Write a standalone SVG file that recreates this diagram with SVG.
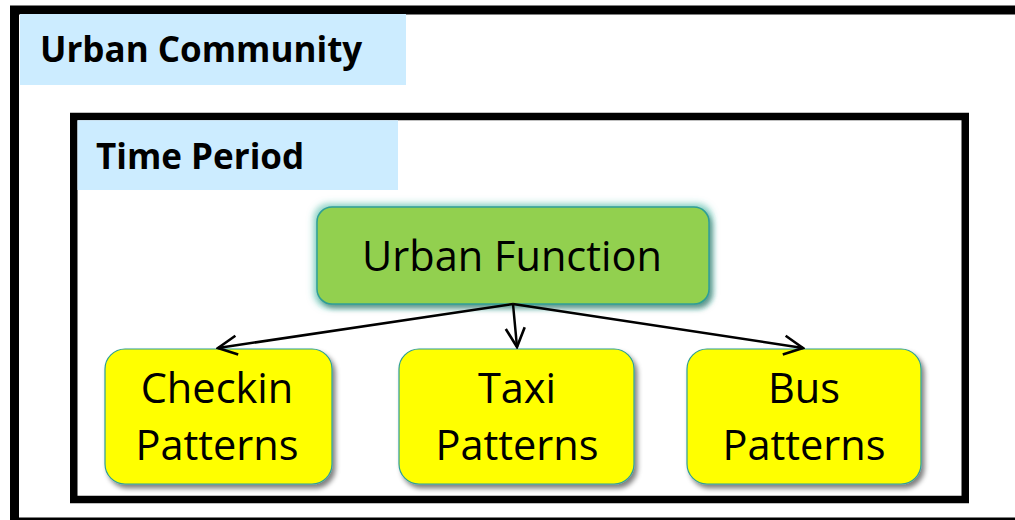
<svg xmlns="http://www.w3.org/2000/svg" width="1015" height="520" viewBox="0 0 1015 520">
  <style>
    .frame { fill: none; stroke: #000; }
    .tag { fill: #CCECFF; }
    .tagtext { font-family: "Open Sans", "Liberation Sans", sans-serif; font-weight: bold; fill: #000; }
    .label { font-family: "Open Sans", "Liberation Sans", sans-serif; font-size: 41.5px; fill: #000; text-anchor: middle; }
    .pattern { fill: #FFFF00; stroke: #2E9E96; stroke-width: 1.2; }
    .func { fill: #92D050; stroke: #2E9E96; stroke-width: 1.5; }
    .edge { fill: none; stroke: #000; stroke-width: 2.5; marker-end: url(#open); }
  </style>
  <defs>
    <marker id="open" viewBox="0 0 22 22" refX="20" refY="11" markerWidth="22" markerHeight="22" markerUnits="userSpaceOnUse" orient="auto">
      <path d="M1,1.5 L20,11 L1,20.5" fill="none" stroke="#000" stroke-width="2.6"/>
    </marker>
    <filter id="shadow" x="-10%" y="-20%" width="125%" height="145%">
      <feGaussianBlur in="SourceAlpha" stdDeviation="2.5"/>
      <feOffset dx="3" dy="4" result="b"/>
      <feFlood flood-color="#000" flood-opacity="0.5"/>
      <feComposite in2="b" operator="in" result="s"/>
      <feMerge><feMergeNode in="s"/><feMergeNode in="SourceGraphic"/></feMerge>
    </filter>
    <filter id="glow" x="-10%" y="-25%" width="125%" height="160%">
      <feMorphology in="SourceAlpha" operator="dilate" radius="3" result="d"/>
      <feGaussianBlur in="d" stdDeviation="3" result="g"/>
      <feFlood flood-color="#3DB39E" flood-opacity="0.55"/>
      <feComposite in2="g" operator="in" result="glowc"/>
      <feGaussianBlur in="SourceAlpha" stdDeviation="2.5"/>
      <feOffset dx="3" dy="4" result="b"/>
      <feFlood flood-color="#000" flood-opacity="0.45"/>
      <feComposite in2="b" operator="in" result="s"/>
      <feMerge><feMergeNode in="glowc"/><feMergeNode in="s"/><feMergeNode in="SourceGraphic"/></feMerge>
    </filter>
  </defs>

  <rect width="1015" height="520" fill="#fff"/>

  <!-- outer container -->
  <g id="urban-community">
    <rect class="frame" x="14.5" y="10" width="1010" height="512" stroke-width="9"/>
    <rect class="tag" x="20" y="14" width="386" height="71"/>
    <text class="tagtext" x="40" y="62" font-size="35">Urban Community</text>
  </g>

  <!-- inner container -->
  <g id="time-period">
    <rect class="frame" x="73.75" y="116.5" width="891.5" height="383" stroke-width="7.5"/>
    <rect class="tag" x="77.5" y="120.3" width="320.5" height="69.7"/>
    <text class="tagtext" x="96" y="169" font-size="35">Time Period</text>
  </g>

  <g id="urban-function">
    <rect class="func" x="317" y="207" width="392" height="97" rx="15" filter="url(#glow)"/>
    <text class="label" x="512" y="271">Urban Function</text>
  </g>

  <g id="checkin-patterns">
    <rect class="pattern" x="105" y="349" width="227" height="135" rx="20" filter="url(#shadow)"/>
    <text class="label" x="217" y="403">Checkin</text>
    <text class="label" x="217" y="460">Patterns</text>
  </g>

  <g id="taxi-patterns">
    <rect class="pattern" x="399" y="349" width="235" height="135" rx="20" filter="url(#shadow)"/>
    <text class="label" x="517" y="403">Taxi</text>
    <text class="label" x="517" y="460">Patterns</text>
  </g>

  <g id="bus-patterns">
    <rect class="pattern" x="687" y="349" width="234" height="135" rx="20" filter="url(#shadow)"/>
    <text class="label" x="804" y="403">Bus</text>
    <text class="label" x="804" y="460">Patterns</text>
  </g>

  <g id="connectors">
    <line class="edge" x1="513" y1="304" x2="218" y2="348"/>
    <line class="edge" x1="513" y1="304" x2="517" y2="347"/>
    <line class="edge" x1="513" y1="304" x2="803" y2="348"/>
  </g>
</svg>
